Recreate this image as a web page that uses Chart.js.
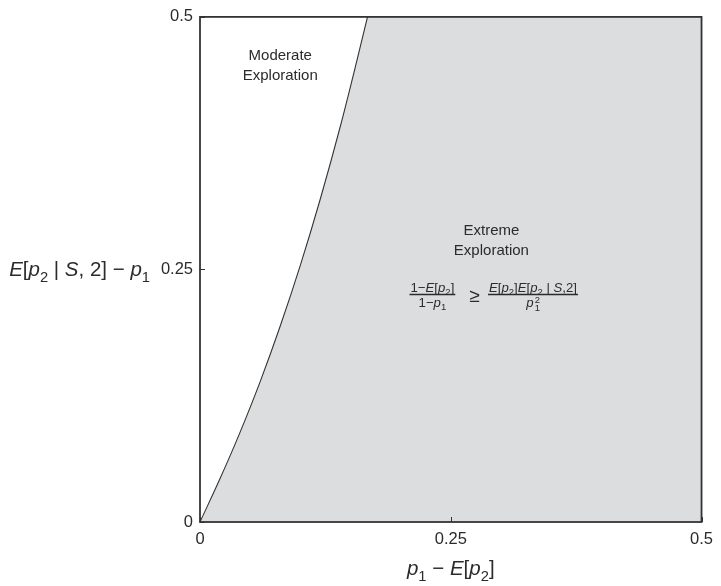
<!DOCTYPE html>
<html>
<head>
<meta charset="utf-8">
<script src="https://cdn.jsdelivr.net/npm/chart.js@4.4.1/dist/chart.umd.min.js"></script>
<style>
  html, body { margin: 0; padding: 0; background: #fff; }
  #wrap { width: 721px; height: 586px; }
</style>
</head>
<body>
<div id="wrap"><canvas id="chartjs-0" width="721" height="586"></canvas></div>
<script>
// boundary between moderate and extreme exploration
var curveX = [0, 0.02, 0.04, 0.06, 0.08, 0.1, 0.12, 0.14, 0.155, 0.167];
var curveY = [0, 0.043, 0.089, 0.139, 0.194, 0.254, 0.32, 0.392, 0.451, 0.5];

var xTickVals = [0, 0.25, 0.5];
var yTickVals = [0, 0.25, 0.5];
var tickLabels = ["0", "0.25", "0.5"];

var FONT = "'Liberation Sans', Arial, Helvetica, sans-serif";
var INK = "#2b2b2b";
var SHADE = "rgb(220, 221, 223)";

var pts = [];
for (var i = 0; i < curveX.length; i++) {
    pts.push({ x: curveX[i], y: curveY[i] });
}

// draw a row of text pieces (italic / sub) centred on cx
function runsWidth(ctx, runs, size) {
    var w = 0;
    runs.forEach(function (r) {
        var s = r.small ? size * 0.72 : size;
        ctx.font = (r.it ? "italic " : "") + s + "px " + FONT;
        w += ctx.measureText(r.t).width;
    });
    return w;
}
function drawRuns(ctx, runs, cx, y, size, align) {
    var w = runsWidth(ctx, runs, size);
    var x = align === "right" ? cx - w : cx - w / 2;
    ctx.textBaseline = "alphabetic";
    ctx.textAlign = "left";
    runs.forEach(function (r) {
        var s = r.small ? size * 0.72 : size;
        ctx.font = (r.it ? "italic " : "") + s + "px " + FONT;
        ctx.fillText(r.t, x, y + (r.dy || 0) * size);
        x += ctx.measureText(r.t).width;
    });
    return w;
}

var annotations = {
    id: "annotations",
    beforeDatasetsDraw: function (chart) {
        var ctx = chart.ctx, a = chart.chartArea;
        ctx.save();
        ctx.fillStyle = SHADE;
        ctx.fillRect(a.left, a.top, a.right - a.left, a.bottom - a.top);
        ctx.restore();
    },
    afterDatasetsDraw: function (chart) {
        var ctx = chart.ctx;
        var xs = chart.scales.x, ys = chart.scales.y;
        ctx.save();
        ctx.fillStyle = INK;
        ctx.textAlign = "center";
        ctx.textBaseline = "middle";
        ctx.font = "15px " + FONT;
        ctx.fillText("Moderate", xs.getPixelForValue(0.08), ys.getPixelForValue(0.4615));
        ctx.fillText("Exploration", xs.getPixelForValue(0.08), ys.getPixelForValue(0.4417));
        ctx.fillText("Extreme", xs.getPixelForValue(0.2905), ys.getPixelForValue(0.2885));
        ctx.fillText("Exploration", xs.getPixelForValue(0.2905), ys.getPixelForValue(0.2688));

        // inequality under the label
        var ly = Math.round(ys.getPixelForValue(0.2253)) + 0.5;
        var fs = 13.2;
        var lc = xs.getPixelForValue(0.2317);
        var gc = xs.getPixelForValue(0.2737);
        var rcx = xs.getPixelForValue(0.332);
        ctx.lineWidth = 1.6;
        ctx.strokeStyle = INK;

        var lw = drawRuns(ctx, [{ t: "1\u2212" }, { t: "E", it: 1 }, { t: "[" }, { t: "p", it: 1 }, { t: "2", small: 1, dy: 0.3 }, { t: "]" }], lc, ly - 3, fs);
        drawRuns(ctx, [{ t: "1\u2212" }, { t: "p", it: 1 }, { t: "1", small: 1, dy: 0.3 }], lc, ly + 12, fs);
        ctx.beginPath();
        ctx.moveTo(lc - lw / 2 - 1, ly);
        ctx.lineTo(lc + lw / 2 + 1, ly);
        ctx.stroke();

        ctx.font = "19px " + FONT;
        ctx.textAlign = "center";
        ctx.textBaseline = "middle";
        ctx.fillText("\u2265", gc, ly + 2);

        var nw = drawRuns(ctx, [{ t: "E", it: 1 }, { t: "[" }, { t: "p", it: 1 }, { t: "2", small: 1, dy: 0.3 }, { t: "]" },
            { t: "E", it: 1 }, { t: "[" }, { t: "p", it: 1 }, { t: "2", small: 1, dy: 0.3 }, { t: " | " }, { t: "S", it: 1 }, { t: ",2]" }], rcx, ly - 3, fs);
        ctx.beginPath();
        ctx.moveTo(rcx - nw / 2 - 1, ly);
        ctx.lineTo(rcx + nw / 2 + 1, ly);
        ctx.stroke();
        ctx.font = "italic " + fs + "px " + FONT;
        ctx.textAlign = "left";
        ctx.textBaseline = "alphabetic";
        var pw = ctx.measureText("p").width;
        ctx.fillText("p", rcx - pw / 2 - 3, ly + 12);
        ctx.font = "9.5px " + FONT;
        ctx.fillText("2", rcx + pw / 2 - 2, ly + 8);
        ctx.fillText("1", rcx + pw / 2 - 2, ly + 16);

        // axis titles, horizontal
        ctx.fillStyle = INK;
        drawRuns(ctx, [{ t: "E", it: 1 }, { t: "[" }, { t: "p", it: 1 }, { t: "2", small: 1, dy: 0.28 }, { t: " | " }, { t: "S", it: 1 }, { t: ", 2] \u2212 " }, { t: "p", it: 1 }, { t: "1", small: 1, dy: 0.28 }],
            150, ys.getPixelForValue(0.25) + 7, 20.5, "right");
        drawRuns(ctx, [{ t: "p", it: 1 }, { t: "1", small: 1, dy: 0.28 }, { t: " \u2212 " }, { t: "E", it: 1 }, { t: "[" }, { t: "p", it: 1 }, { t: "2", small: 1, dy: 0.28 }, { t: "]" }],
            xs.getPixelForValue(0.25), 575, 20.5);
        ctx.restore();
    },
    afterDraw: function (chart) {
        var ctx = chart.ctx, a = chart.chartArea;
        var xs = chart.scales.x, ys = chart.scales.y;
        ctx.save();
        ctx.strokeStyle = "#333";
        ctx.lineWidth = 1.8;
        ctx.strokeRect(a.left, a.top, a.right - a.left, a.bottom - a.top);
        ctx.lineWidth = 1;
        ctx.beginPath();
        xTickVals.forEach(function (v) {
            var px = Math.round(xs.getPixelForValue(v)) + 0.5;
            ctx.moveTo(px, a.bottom);
            ctx.lineTo(px, a.bottom - 5);
        });
        yTickVals.forEach(function (v) {
            var py = Math.round(ys.getPixelForValue(v)) + 0.5;
            ctx.moveTo(a.left, py);
            ctx.lineTo(a.left + 5, py);
        });
        ctx.stroke();
        ctx.restore();
    }
};

var ctx0 = document.getElementById("chartjs-0");
var myChart = new Chart(ctx0, {
    type: "scatter",
    data: {
        datasets: [{
            label: "boundary",
            data: pts,
            showLine: true,
            fill: "end",
            backgroundColor: "#ffffff",
            borderColor: "#333",
            borderWidth: 1.1,
            pointRadius: 0,
            cubicInterpolationMode: "monotone"
        }]
    },
    options: {
        responsive: false,
        animation: false,
        events: [],
        layout: { padding: { top: 16, right: 15, left: 0, bottom: 0 } },
        plugins: { legend: { display: false }, tooltip: { enabled: false } },
        scales: {
            x: {
                type: "linear", min: 0, max: 0.5,
                afterBuildTicks: function (s) { s.ticks = xTickVals.map(function (v) { return { value: v }; }); },
                afterFit: function (s) { s.height = 64; },
                grid: { display: false, drawTicks: false },
                border: { display: false },
                ticks: {
                    maxRotation: 0, padding: 8, color: INK,
                    font: { family: FONT, size: 16.5 },
                    callback: function (v, i) { return tickLabels[i]; }
                }
            },
            y: {
                type: "linear", min: 0, max: 0.5,
                afterBuildTicks: function (s) { s.ticks = yTickVals.map(function (v) { return { value: v }; }); },
                afterFit: function (s) { s.width = 200; },
                grid: { display: false, drawTicks: false },
                border: { display: false },
                ticks: {
                    padding: 7, color: INK,
                    font: { family: FONT, size: 16.5 },
                    callback: function (v, i) { return tickLabels[i]; }
                }
            }
        }
    },
    plugins: [annotations]
});
</script>
</body>
</html>
